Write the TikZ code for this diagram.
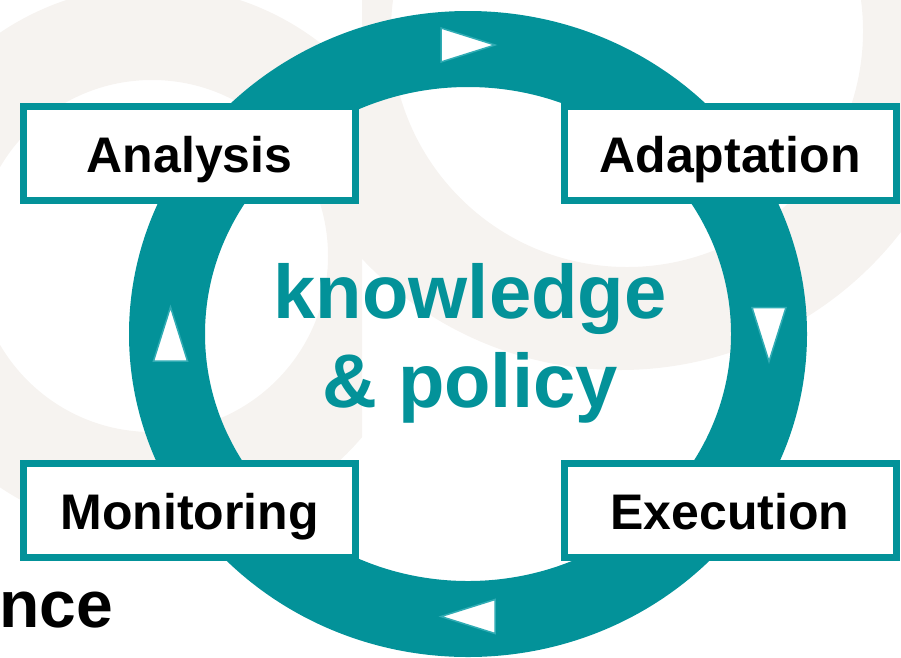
\documentclass[tikz,border=0pt]{standalone}
\usepackage{fontspec}
\setmainfont{Liberation Sans}
\definecolor{ringteal}{RGB}{3,146,153}
\definecolor{markteal}{RGB}{48,172,180}
\definecolor{wmark}{RGB}{246,243,240}
\tikzset{stage/.style={rectangle, draw=ringteal, line width=7pt, fill=white, inner sep=0pt, minimum width=332pt, minimum height=94pt, font=\fontsize{50}{60}\selectfont\bfseries, text height=38pt, text depth=0pt}}
\tikzset{turn/.style={draw=markteal, line width=1.5pt, fill=white, line join=miter}}
\tikzset{core/.style={anchor=base, text=ringteal, inner sep=0pt, font=\fontsize{76}{90}\selectfont\bfseries}}

\begin{document}
\begin{tikzpicture}[x=1pt,y=-1pt]
  \useasboundingbox (0,0) rectangle (901,657);
  \begin{scope}
    \clip (0,0) rectangle (362,657);
    \fill[wmark, even odd rule] (153,260) circle[radius=274] (152,256) circle[radius=176];
  \end{scope}
  \begin{scope}
    \clip (362,0) rectangle (901,657);
    \fill[wmark, even odd rule] (620,15) circle[radius=355] (627,31) circle[radius=236];
  \end{scope}
  \fill[ringteal, even odd rule] (468,334) ellipse[x radius=339, y radius=323]
    (468,334) ellipse[x radius=263, y radius=247];
  \foreach \x/\y/\r in {
    468/45/0,
    769/334.5/-90,
    468/616.5/180,
    170.5/334/90%
  } {
    \draw[turn, shift={(\x,\y)}, rotate=\r] (27,0) -- (-27,17) -- (-27,-17) -- cycle;
  }
  \foreach \x/\y/\lab/\txt in {
    189.5/153.5/ana/Analysis,
    730/153.5/ada/Adaptation,
    730/510/exe/Execution,
    189.5/510/mon/Monitoring%
  } {
    \node[stage] (\lab) at (\x, \y) {\txt};
  }
  \node[core] (know) at (470,318) {knowledge};
  \node[core] (poli) at (470,407) {\& policy};
  \node[anchor=base east, inner sep=0pt, font=\fontsize{66}{80}\selectfont\bfseries] (nce) at (113,627) {nce};
\end{tikzpicture}
\end{document}
